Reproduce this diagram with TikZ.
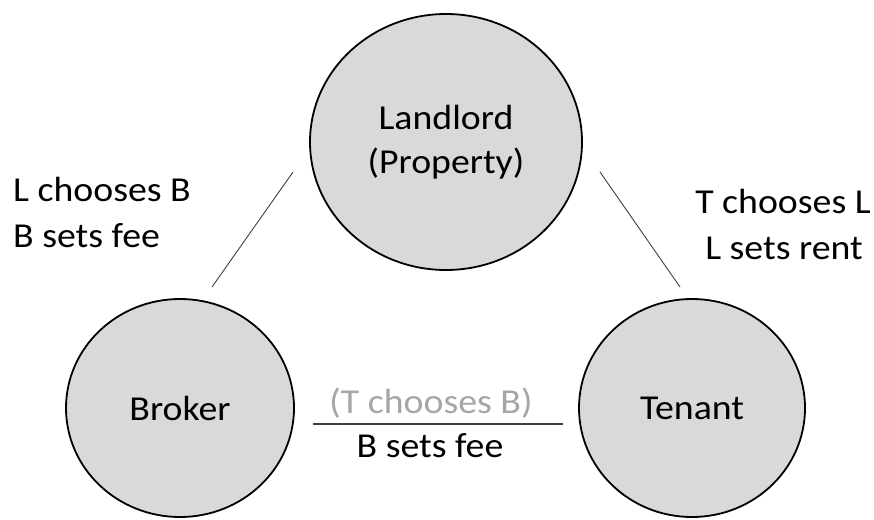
\documentclass[tikz,border=0pt]{standalone}
\usepackage{fontspec}
\setmainfont[FakeStretch=1.08]{Carlito}
\usetikzlibrary{shapes.geometric}
\definecolor{circfill}{HTML}{D9D9D9}
\definecolor{linecol}{HTML}{404040}
\definecolor{greytext}{HTML}{A6A6A6}
\begin{document}
\begin{tikzpicture}[x=1pt,y=-1pt,
  party/.style={ellipse, draw=black, line width=1.8pt, fill=circfill, inner sep=0pt,
    align=center, font=\fontsize{35}{44}\selectfont},
  lbl/.style={inner sep=0pt, font=\fontsize{35}{44}\selectfont},
  link/.style={draw=linecol, line width=0.9pt}]
\useasboundingbox (0,0) rectangle (874,519);
\node[party, minimum width=272pt, minimum height=256pt] (L) at (446,142) {Landlord\\(Property)};
\node[party, minimum width=228pt, minimum height=218pt] (B) at (180,408) {Broker};
\node[party, minimum width=226pt, minimum height=218pt] (T) at (692,408) {Tenant};
\coordinate (lt) at (293,172);
\coordinate (lb) at (212,287);
\coordinate (rt) at (600,172);
\coordinate (rb) at (680,287);
\coordinate (hl) at (313,424);
\coordinate (hr) at (563,424);
\draw[link] (lt) -- (lb);
\draw[link] (rt) -- (rb);
\draw[link, line width=1.4pt] (hl) -- (hr);
\node[lbl, anchor=base west] (l1) at (13,201) {L chooses B};
\node[lbl, anchor=base west] (l2) at (13,247) {B sets fee};
\node[lbl, anchor=base] (r1) at (783,213) {T chooses L};
\node[lbl, anchor=base] (r2) at (784,259) {L sets rent};
\node[lbl, anchor=base, text=greytext] (m1) at (431,413) {(T chooses B)};
\node[lbl, anchor=base] (m2) at (430,457) {B sets fee};
\end{tikzpicture}
\end{document}
